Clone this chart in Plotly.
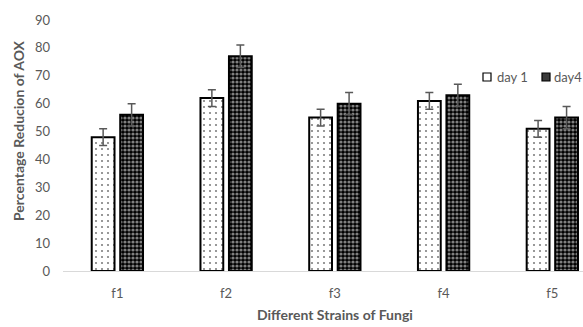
import plotly.graph_objects as go

categories = ["f1", "f2", "f3", "f4", "f5"]
day1 = [48, 62, 55, 61, 51]
day4 = [56, 77, 60, 63, 55]
day1_err = [3, 3, 3, 3, 3]
day4_err = [4, 4, 4, 4, 4]
y_ticks = [0, 10, 20, 30, 40, 50, 60, 70, 80, 90]

GRAY = "#595959"
FONT = "Lato"

fig = go.Figure()
fig.add_trace(go.Bar(
    x=categories, y=day1, name="day 1",
    marker=dict(color="white", line=dict(color="black", width=2),
                pattern=dict(shape=".", fgcolor="black", bgcolor="white", size=6, solidity=0.1)),
    error_y=dict(type="data", array=day1_err, color=GRAY, thickness=1.5, width=4),
))
fig.add_trace(go.Bar(
    x=categories, y=day4, name="day4",
    marker=dict(color="black", line=dict(color="black", width=2),
                pattern=dict(shape=".", fgcolor="white", bgcolor="black", size=4, solidity=0.5)),
    error_y=dict(type="data", array=day4_err, color=GRAY, thickness=1.5, width=4),
))

W, H = 583, 327
L, T, B = 63, 20, 56
fig.update_layout(
    width=W, height=H,
    margin=dict(l=L, r=0, t=T, b=B),
    paper_bgcolor="white", plot_bgcolor="white",
    barmode="group", bargap=0.476, bargroupgap=0.2,
    showlegend=False,
    font=dict(family=FONT, size=13, color=GRAY),
)
fig.update_xaxes(range=[-0.5, 4.282], showline=True, linecolor="#d9d9d9", linewidth=1,
                 showgrid=False, ticks="", ticklabelstandoff=10,
                 tickfont=dict(family=FONT, size=13, color=GRAY))
fig.update_yaxes(range=[0, 90], tickvals=y_ticks, showline=False, showgrid=False,
                 zeroline=False, ticks="", ticklabelstandoff=12,
                 tickfont=dict(family=FONT, size=13, color=GRAY))

plot_h = H - T - B
plot_w = W - L
fig.add_annotation(text="<b>Different Strains of Fungi</b>", xref="x", yref="paper",
                   x=2, y=(271 - 314) / plot_h, showarrow=False,
                   xanchor="center", yanchor="middle",
                   font=dict(family=FONT, size=14, color=GRAY))
fig.add_annotation(text="<b>Percentage Reducion of AOX</b>", xref="paper", yref="paper",
                   x=(18 - L) / plot_w, y=(271 - 131) / plot_h, textangle=-90,
                   showarrow=False, xanchor="center", yanchor="middle",
                   font=dict(family=FONT, size=14, color=GRAY))

# legend (custom)
def px_x(p):
    return (p - L) / plot_w
def px_y(p):
    return (271 - p) / plot_h

fig.add_shape(type="rect", xref="paper", yref="paper",
              x0=px_x(483), x1=px_x(491), y0=px_y(81), y1=px_y(73),
              fillcolor="white", line=dict(color="black", width=1.2))
fig.add_shape(type="rect", xref="paper", yref="paper",
              x0=px_x(542), x1=px_x(550), y0=px_y(81), y1=px_y(73),
              fillcolor="#3a3a3a", line=dict(color="black", width=1.2))
fig.add_annotation(text="day 1", xref="paper", yref="paper", x=px_x(495), y=px_y(77),
                   showarrow=False, xanchor="left", yanchor="middle",
                   font=dict(family=FONT, size=13, color=GRAY))
fig.add_annotation(text="day4", xref="paper", yref="paper", x=px_x(552), y=px_y(77),
                   showarrow=False, xanchor="left", yanchor="middle",
                   font=dict(family=FONT, size=13, color=GRAY))

fig.write_html("out.html", config={"displayModeBar": False},
               post_script="document.body.style.margin='0';document.body.style.overflow='hidden';")
